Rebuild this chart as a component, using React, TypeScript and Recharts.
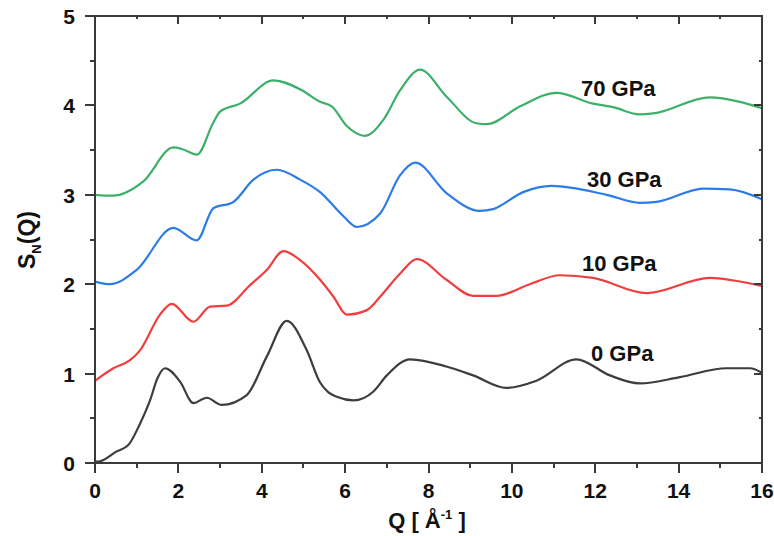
import React from "react";
import { LineChart, Line, XAxis, YAxis } from "recharts";

// S_N(Q) curves, offset by pressure
const q0 = [0, 0.12, 0.52, 0.8, 1.08, 1.32, 1.5, 1.68, 2.04, 2.36, 2.68, 3.04, 3.64, 4.12, 4.6, 5.08, 5.4, 5.6, 5.8, 6.2, 6.68, 7.0, 7.56, 8.43, 9.07, 9.87, 10.59, 11.55, 12.35, 13.07, 14.03, 15.15, 15.71, 16];
const s0 = [0.015, 0.02, 0.13, 0.2, 0.44, 0.7, 0.95, 1.06, 0.91, 0.67, 0.73, 0.65, 0.76, 1.19, 1.59, 1.26, 0.9, 0.79, 0.74, 0.7, 0.8, 0.98, 1.16, 1.08, 0.98, 0.84, 0.92, 1.16, 0.98, 0.89, 0.96, 1.06, 1.06, 1.01];

const q10 = [0, 0.44, 0.84, 1.08, 1.56, 1.84, 2.36, 2.76, 3.16, 3.72, 4.12, 4.52, 4.92, 5.4, 5.72, 6.04, 6.52, 6.84, 7.32, 7.72, 8.43, 9.07, 9.63, 10.43, 11.15, 11.95, 13.23, 14.75, 15.47, 16];
const s10 = [0.92, 1.06, 1.15, 1.26, 1.66, 1.78, 1.58, 1.75, 1.76, 1.99, 2.16, 2.37, 2.27, 2.05, 1.86, 1.66, 1.71, 1.86, 2.12, 2.28, 2.05, 1.87, 1.87, 2.0, 2.1, 2.07, 1.9, 2.07, 2.03, 1.98];

const q30 = [0, 0.36, 1.0, 1.88, 2.44, 2.84, 3.32, 3.8, 4.36, 4.92, 5.4, 5.96, 6.28, 6.84, 7.32, 7.68, 8.43, 9.23, 9.55, 10.27, 10.95, 12.27, 13.07, 13.47, 14.59, 15.23, 16];
const s30 = [2.03, 2.0, 2.16, 2.63, 2.49, 2.85, 2.92, 3.17, 3.28, 3.17, 3.03, 2.76, 2.64, 2.79, 3.22, 3.36, 3.02, 2.82, 2.84, 3.03, 3.1, 3.0, 2.91, 2.92, 3.07, 3.06, 2.95];

const q70 = [0, 0.43, 1.16, 1.88, 2.1, 2.45, 2.83, 3.0, 3.48, 4.28, 4.92, 5.4, 5.68, 6.04, 6.48, 6.92, 7.32, 7.8, 8.43, 9.15, 9.4, 10.2, 11.07, 11.95, 12.43, 13.07, 13.39, 14.75, 15.47, 16];
const s70 = [3.0, 2.99, 3.15, 3.53, 3.51, 3.45, 3.8, 3.93, 4.02, 4.28, 4.18, 4.04, 3.99, 3.77, 3.66, 3.84, 4.17, 4.4, 4.1, 3.8, 3.79, 3.99, 4.14, 4.02, 3.98, 3.9, 3.91, 4.09, 4.04, 3.97];

const xTicks = [0, 1, 2, 3, 4, 5, 6, 7, 8, 9, 10, 11, 12, 13, 14, 15, 16];
const yTicks = [0, 0.5, 1, 1.5, 2, 2.5, 3, 3.5, 4, 4.5, 5];
const X_MAX = 16;
const Y_MAX = 5;

const series = [
  { name: "0 GPa", q: q0, s: s0, color: "#3d3d3d" },
  { name: "10 GPa", q: q10, s: s10, color: "#f03e3e" },
  { name: "30 GPa", q: q30, s: s30, color: "#2b7ce6" },
  { name: "70 GPa", q: q70, s: s70, color: "#3cb06a" },
];

const toRows = (q: number[], s: number[]) => q.map((v, i) => ({ q: v, s: s[i] }));

const FONT = "'Liberation Sans', Arial, sans-serif";
const AX = "#3a3a3a";
const AXW = 2;

// plot box (matches the chart margins / axis sizes below)
const W = 774, H = 536;
const L = 95, T = 16, R = W - 12, B = H - 73;
const sx = (v: number) => L + (v / X_MAX) * (R - L);
const sy = (v: number) => B - (v / Y_MAX) * (B - T);

const isMajorX = (v: number) => v % 2 === 0;
const isMajorY = (v: number) => v % 1 === 0;

function BottomTick(props: any) {
  const { x, y, payload } = props;
  if (!isMajorX(payload.value)) return null;
  return (
    <text x={x} y={y + 35} textAnchor="middle" fontFamily={FONT} fontWeight="bold" fontSize={21} fill="#111">
      {payload.value}
    </text>
  );
}

function LeftTick(props: any) {
  const { x, y, payload } = props;
  if (!isMajorY(payload.value)) return null;
  return (
    <text x={x - 20} y={y + 8} textAnchor="end" fontFamily={FONT} fontWeight="bold" fontSize={21} fill="#111">
      {payload.value}
    </text>
  );
}

const mark = (left: number, top: number, width: number, height: number): React.CSSProperties => ({
  position: "absolute",
  left,
  top,
  width,
  height,
  background: AX,
});

export default function App() {
  return (
    <div style={{ position: "absolute", left: 0, top: 0, width: W, height: H, background: "#fff" }}>
      <LineChart width={W} height={H} margin={{ top: T, right: W - R, bottom: 0, left: 0 }}>
        <XAxis type="number" dataKey="q" domain={[0, X_MAX]} ticks={xTicks} interval={0} height={H - B}
          tickSize={0} tickMargin={0} tickLine={false} axisLine={{ stroke: AX, strokeWidth: AXW }}
          tick={<BottomTick />} allowDataOverflow />
        <YAxis type="number" domain={[0, Y_MAX]} ticks={yTicks} interval={0} width={L}
          tickSize={0} tickMargin={0} tickLine={false} axisLine={{ stroke: AX, strokeWidth: AXW }}
          tick={<LeftTick />} allowDataOverflow />
        {series.map((sr) => (
          <Line
            key={sr.name}
            data={toRows(sr.q, sr.s)}
            dataKey="s"
            type="monotone"
            stroke={sr.color}
            strokeWidth={2.2}
            dot={false}
            isAnimationActive={false}
          />
        ))}
      </LineChart>

      {/* frame top/right and tick marks */}
      <div style={mark(L - 1, T - 1, R - L + 2, AXW)} />
      <div style={mark(R - 1, T - 1, AXW, B - T + 2)} />
      {xTicks.map((t) => {
        const len = isMajorX(t) ? 10 : 5;
        return (
          <React.Fragment key={"x" + t}>
            <div style={mark(sx(t) - 1, B, AXW, len)} />
            <div style={mark(sx(t) - 1, T, AXW, len - 2)} />
          </React.Fragment>
        );
      })}
      {yTicks.map((t) => {
        const len = isMajorY(t) ? 10 : 5;
        return (
          <React.Fragment key={"y" + t}>
            <div style={mark(L - len, sy(t) - 1, len, AXW)} />
            <div style={mark(R - len + 2, sy(t) - 1, len - 2, AXW)} />
          </React.Fragment>
        );
      })}

      <svg width={W} height={H} style={{ position: "absolute", left: 0, top: 0, pointerEvents: "none" }}>
        <g fontFamily={FONT} fontWeight="bold" fontSize={22} fill="#111">
          <text x={581} y={96}>70 GPa</text>
          <text x={587} y={187}>30 GPa</text>
          <text x={582} y={271}>10 GPa</text>
          <text x={591} y={361}>0 GPa</text>
        </g>
        <text
          transform="translate(35 240) rotate(-90)"
          textAnchor="middle"
          fontFamily={FONT}
          fontWeight="bold"
          fontSize={23}
          fill="#111"
        >
          S<tspan fontSize={13} dy={6}>N</tspan>
          <tspan dy={-6}>(Q)</tspan>
        </text>
        <text x={427} y={528} textAnchor="middle" fontFamily={FONT} fontWeight="bold" fontSize={22} fill="#111">
          Q [ Å<tspan fontSize={13} dy={-9}>-1</tspan>
          <tspan dy={9}> ]</tspan>
        </text>
      </svg>
    </div>
  );
}
